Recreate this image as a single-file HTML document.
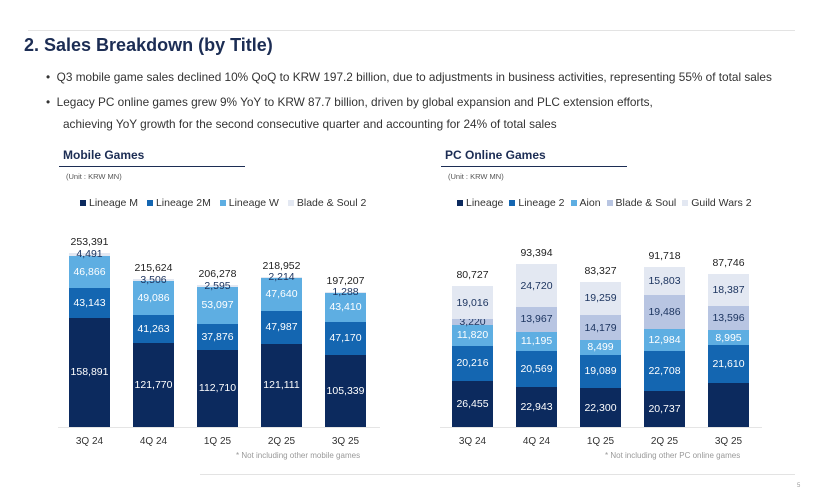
<!DOCTYPE html><html><head><style>
body{margin:0;width:817px;height:500px;background:#fff;position:relative;overflow:hidden;font-family:"Liberation Sans",sans-serif;color:#222}
.a{position:absolute;white-space:nowrap}
.seg{position:absolute;display:flex;align-items:center;justify-content:center;font-size:10.5px;overflow:visible}
.lg{position:absolute;font-size:10.5px;color:#333;white-space:nowrap}
.lg i{display:inline-block;width:6px;height:6px;margin:0 3px 0 6px;vertical-align:0}
</style></head><body>
<div class="a" style="left:28px;top:30px;width:767px;height:1px;background:#e3e3e3"></div>
<div class="a" style="left:24px;top:35px;font-size:18px;font-weight:bold;color:#1c2d54">2. Sales Breakdown (by Title)</div>
<div class="a" style="left:46px;top:70px;font-size:11.8px;color:#333">•&nbsp;&nbsp;Q3 mobile game sales declined 10% QoQ to KRW 197.2 billion, due to adjustments in business activities, representing 55% of total sales</div>
<div class="a" style="left:46px;top:95px;font-size:11.8px;color:#333">•&nbsp;&nbsp;Legacy PC online games grew 9% YoY to KRW 87.7 billion, driven by global expansion and PLC extension efforts,</div>
<div class="a" style="left:63px;top:117px;font-size:11.8px;color:#333">achieving YoY growth for the second consecutive quarter and accounting for 24% of total sales</div>
<div class="a" style="left:63px;top:148px;font-size:12px;font-weight:bold;color:#1c2d54">Mobile Games</div>
<div class="a" style="left:59px;top:166px;width:186px;height:1px;background:#1c2d54"></div>
<div class="a" style="left:66px;top:172px;font-size:7.5px;color:#555">(Unit : KRW MN)</div>
<div class="a" style="left:445px;top:148px;font-size:12px;font-weight:bold;color:#1c2d54">PC Online Games</div>
<div class="a" style="left:441px;top:166px;width:186px;height:1px;background:#1c2d54"></div>
<div class="a" style="left:448px;top:172px;font-size:7.5px;color:#555">(Unit : KRW MN)</div>
<div class="lg" style="left:74px;top:197px"><i style="background:#0c2a5e"></i>Lineage M <i style="background:#1466b1"></i>Lineage 2M <i style="background:#5eaee2"></i>Lineage W <i style="background:#e3e8f2"></i>Blade &amp; Soul 2</div>
<div class="lg" style="left:451px;top:197px"><i style="background:#0c2a5e"></i>Lineage<i style="background:#1466b1"></i>Lineage 2<i style="background:#5eaee2"></i>Aion<i style="background:#b8c5e2"></i>Blade &amp; Soul<i style="background:#e3e8f2"></i>Guild Wars 2</div>
<div class="a" style="left:58px;top:427px;width:322px;height:1px;background:#e5e5e5"></div>
<div class="a" style="left:440px;top:427px;width:322px;height:1px;background:#e5e5e5"></div>
<div class="a" style="left:236px;top:451px;font-size:8px;color:#999">* Not including other mobile games</div>
<div class="a" style="left:605px;top:451px;font-size:8px;color:#999">* Not including other PC online games</div>
<div class="a" style="left:200px;top:474px;width:595px;height:1px;background:#e3e3e3"></div>
<div class="a" style="left:797px;top:483px;font-size:6px;color:#999">5</div>
<div id="c"></div>
<script>
var C=["#0c2a5e","#1466b1","#5eaee2","#b8c5e2","#e3e8f2"];
var Q=["3Q 24","4Q 24","1Q 25","2Q 25","3Q 25"];
function chart(x0,k,data,tot,cols,txt){
 var h="";
 data.forEach(function(d,i){
  var x=x0+i*64,y=427,w=41;
  d.forEach(function(v,j){
   var hh=v*k;y-=hh;
   var lab=(i==4&&j==0&&cols.length==5)?"":v.toLocaleString("en-US");
   h+='<div class="seg" style="left:'+x+'px;top:'+y+'px;width:'+w+'px;height:'+hh+'px;background:'+cols[j]+';color:'+txt[j]+'">'+lab+'</div>';
  });
  h+='<div class="a" style="left:'+(x-10)+'px;width:'+(w+20)+'px;text-align:center;top:'+(y-17)+'px;font-size:10.5px;color:#222">'+tot[i]+'</div>';
  h+='<div class="a" style="left:'+(x-10)+'px;width:'+(w+20)+'px;text-align:center;top:436px;font-size:10px;color:#333">'+Q[i]+'</div>';
 });
 return h;
}
var h=chart(69,0.000687,[[158891,43143,46866,4491],[121770,41263,49086,3506],[112710,37876,53097,2595],[121111,47987,47640,2214],[105339,47170,43410,1288]],
 ["253,391","215,624","206,278","218,952","197,207"],[C[0],C[1],C[2],C[4]],["#fff","#fff","#fff","#1d3560"]);
h+=chart(452,0.001745,[[26455,20216,11820,3220,19016],[22943,20569,11195,13967,24720],[22300,19089,8499,14179,19259],[20737,22708,12984,19486,15803],[25158,21610,8995,13596,18387]],
 ["80,727","93,394","83,327","91,718","87,746"],C,["#fff","#fff","#fff","#1d3560","#1d3560"]);
document.getElementById("c").innerHTML=h;
</script>
</body></html>
